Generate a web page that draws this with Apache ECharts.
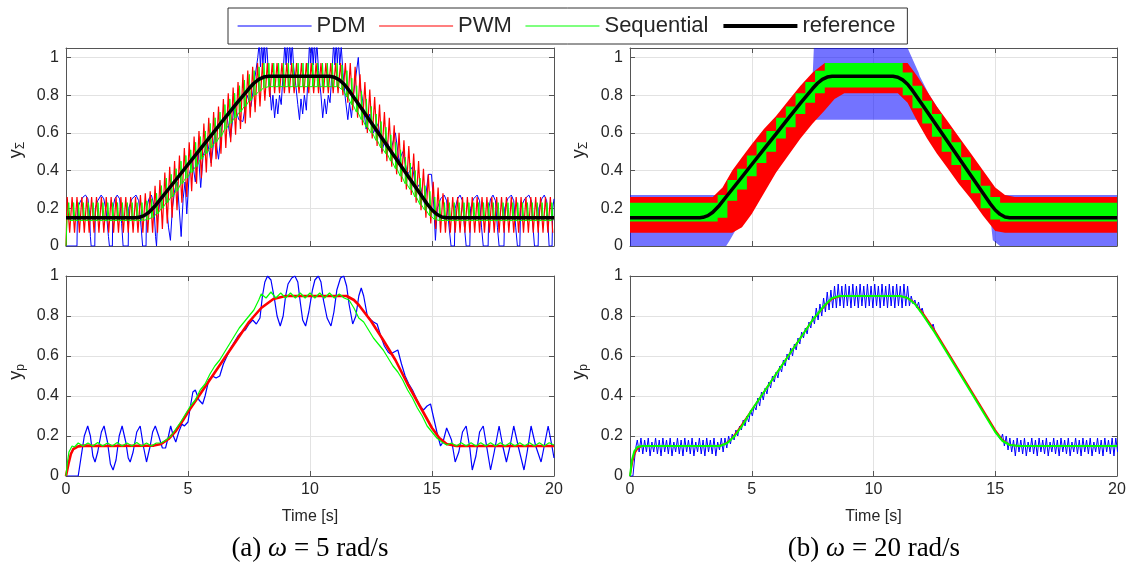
<!DOCTYPE html>
<html><head><meta charset="utf-8">
<script src="https://cdn.jsdelivr.net/npm/echarts@6/dist/echarts.min.js"></script>
<style>html,body{margin:0;padding:0;background:#fff}#c{width:1134px;height:574px}</style>
</head><body><div id="c"></div>
<script>
// ---------- DATA ----------
const seriesNames = ['PDM', 'PWM', 'Sequential', 'reference'];
const xTicks = [0, 5, 10, 15, 20];
const yTicks = [0, 0.2, 0.4, 0.6, 0.8, 1];
const captions = ['(a) {w|\u03c9} = 5 rad/s', '(b) {w|\u03c9} = 20 rad/s'];

// reference trajectory (same in both top panels)
const refT = [0,2.87,3.0,3.2,3.4,3.67,4.0,4.5,5,5.5,6,6.5,7,7.5,7.7,7.9,8.1,8.3,10.8,11.0,11.2,11.4,11.6,12,12.5,13,13.5,14,14.5,14.79,15.0,15.2,15.4,15.59,20];
const refY = [0.15,0.15,0.152,0.161,0.179,0.215,0.269,0.35,0.432,0.514,0.595,0.677,0.758,0.835,0.863,0.884,0.896,0.9,0.9,0.895,0.881,0.858,0.825,0.75,0.656,0.562,0.468,0.374,0.28,0.225,0.191,0.168,0.154,0.15,0.15];

// (a) omega = 5 : PWM switching, per cycle high / low values (cycle 0.2 s)
const pwmHiA = [.26,.26,.26,.26,.26,.26,.26,.26,.26,.26,.26,.26,.26,.26,.26,
 .27,.28,.29,.32,.35,.39,.42,.45,.48,.52,.55,.58,.61,.65,.68,.71,.74,.78,.81,.84,.87,.91,.93,.95,.97,
 .97,.97,.97,.97,.97,.97,.97,.97,.97,.97,.97,.97,.97,.97,.97,.97,.97,.97,.97,
 .95,.91,.87,.83,.79,.75,.71,.68,.64,.60,.56,.53,.49,.45,.41,.38,.34,.31,.28,
 .26,.26,.26,.26,.26,.26,.26,.26,.26,.26,.26,.26,.26,.26,.26,.26,.26,.26,.26,.26,.26,.26];
const pwmLoA = [.07,.07,.07,.07,.07,.07,.07,.07,.07,.07,.07,.07,.07,.07,.07,.07,.07,.07,.07,
 .09,.12,.15,.19,.23,.26,.29,.33,.36,.39,.42,.46,.49,.52,.55,.59,.62,.65,.68,.71,.74,.77,.79,
 .81,.81,.81,.81,.81,.81,.81,.81,.81,.81,.81,.81,.81,.81,
 .80,.76,.72,.68,.64,.60,.57,.53,.49,.45,.42,.38,.34,.30,.27,.23,.19,.15,.12,.09,
 .07,.07,.07,.07,.07,.07,.07,.07,.07,.07,.07,.07,.07,.07,.07,.07,.07,.07,.07,.07,.07,.07,.07,.07];
// (a) Sequential: per cycle pulse top / base
const seqHiA = [.23,.23,.23,.23,.23,.23,.23,.23,.23,.23,.23,.23,.23,.23,.23,.23,
 .24,.25,.28,.32,.36,.38,.41,.45,.48,.51,.55,.58,.61,.65,.68,.71,.75,.78,.81,.85,.88,.91,.93,.95,
 .97,.97,.97,.97,.97,.97,.97,.97,.97,.97,.97,.97,.97,.97,.97,.97,
 .96,.93,.89,.85,.82,.78,.74,.70,.66,.63,.59,.55,.51,.47,.44,.40,.36,.32,.29,.26,.24,
 .23,.23,.23,.23,.23,.23,.23,.23,.23,.23,.23,.23,.23,.23,.23,.23,.23,.23,.23,.23,.23,.23,.23];
const seqLoA = [.135,.135,.135,.135,.135,.135,.135,.135,.135,.135,.135,.135,.135,.135,.135,.135,
 .14,.15,.17,.20,.23,.26,.29,.33,.36,.39,.42,.46,.49,.52,.55,.58,.62,.65,.68,.71,.74,.77,.80,.82,.84,
 .845,.845,.845,.845,.845,.845,.845,.845,.845,.845,.845,.845,.845,.845,.845,
 .83,.79,.75,.71,.67,.63,.60,.56,.52,.49,.45,.41,.37,.33,.30,.26,.22,.19,.16,.14,
 .135,.135,.135,.135,.135,.135,.135,.135,.135,.135,.135,.135,.135,.135,.135,.135,.135,.135,.135,.135,.135,.135,.135,.135];
// (a) PDM total output [t, y]
const pdmA = [[0,0],[0.45,0],[0.47,0.2],[0.6,0.24],[0.7,0.26],[0.8,0.27],[0.9,0.25],[0.96,0.18],[1.0,0.05],[1.03,0],[1.18,0],[1.2,0.2],[1.3,0.24],[1.44,0.27],[1.55,0.25],[1.65,0.18],[1.74,0.05],[1.78,0],[1.9,0],[1.92,0.2],[2.0,0.25],[2.1,0.27],[2.2,0.25],[2.28,0.12],[2.34,0],[2.55,0],[2.57,0.2],[2.7,0.25],[2.87,0.27],[2.98,0.24],[3.08,0.1],[3.14,0],[3.28,0],[3.3,0.2],[3.4,0.25],[3.5,0.27],[3.6,0.22],[3.67,0.05],[3.71,0],[3.76,0.15],[3.88,0.26],[4.0,0.28],[4.1,0.25],[4.2,0.1],[4.28,0.03],[4.36,0.2],[4.46,0.3],[4.56,0.34],[4.64,0.2],[4.72,0.05],[4.8,0.25],[4.88,0.34],[4.95,0.17],[5.05,0.38],[5.18,0.45],[5.3,0.34],[5.42,0.5],[5.52,0.31],[5.62,0.48],[5.8,0.55],[5.95,0.44],[6.1,0.6],[6.25,0.46],[6.4,0.65],[6.58,0.7],[6.74,0.57],[6.9,0.75],[7.08,0.67],[7.25,0.66],[7.42,0.8],[7.58,0.74],[7.75,0.9],[7.86,1.0],[7.92,1.08],[7.97,0.95],[8.02,1.08],[8.07,0.96],[8.12,1.08],[8.17,0.97],[8.22,1.08],[8.28,0.95],[8.35,0.85],[8.42,0.72],[8.48,0.8],[8.55,0.68],[8.62,0.78],[8.68,0.7],[8.75,0.8],[8.82,0.75],[8.9,0.92],[8.97,1.08],[9.02,0.96],[9.07,1.08],[9.12,0.97],[9.17,1.08],[9.22,0.96],[9.27,1.08],[9.33,0.95],[9.42,0.85],[9.5,0.75],[9.57,0.67],[9.63,0.78],[9.7,0.7],[9.77,0.8],[9.85,0.72],[9.92,0.9],[9.98,1.08],[10.03,0.97],[10.08,1.08],[10.13,0.96],[10.18,1.08],[10.23,0.97],[10.28,1.08],[10.35,0.93],[10.45,0.8],[10.52,0.68],[10.6,0.78],[10.67,0.7],[10.75,0.8],[10.82,0.76],[10.9,0.92],[10.97,1.08],[11.02,0.96],[11.07,1.08],[11.12,0.97],[11.17,1.08],[11.22,0.96],[11.28,1.06],[11.35,0.92],[11.45,0.78],[11.55,0.67],[11.62,0.76],[11.7,0.68],[11.78,0.8],[11.88,0.9],[11.98,1.0],[12.05,0.85],[12.15,0.78],[12.3,0.62],[12.45,0.7],[12.6,0.6],[12.8,0.65],[12.95,0.5],[13.1,0.58],[13.3,0.5],[13.5,0.6],[13.65,0.45],[13.8,0.5],[14.0,0.38],[14.2,0.42],[14.35,0.3],[14.5,0.33],[14.7,0.22],[14.85,0.38],[14.98,0.38],[15.08,0.2],[15.14,0.03],[15.22,0.2],[15.35,0.25],[15.5,0.27],[15.6,0.24],[15.7,0.1],[15.78,0],[15.92,0],[15.95,0.2],[16.05,0.25],[16.15,0.27],[16.25,0.24],[16.33,0.1],[16.4,0],[16.55,0],[16.58,0.2],[16.7,0.25],[16.85,0.27],[16.95,0.24],[17.03,0.1],[17.1,0],[17.3,0],[17.33,0.2],[17.4,0.25],[17.5,0.27],[17.6,0.24],[17.68,0.1],[17.75,0],[17.95,0],[17.98,0.2],[18.1,0.25],[18.25,0.27],[18.35,0.24],[18.43,0.1],[18.5,0],[18.6,0],[18.63,0.2],[18.8,0.25],[18.97,0.27],[19.07,0.24],[19.14,0.1],[19.2,0],[19.35,0],[19.38,0.2],[19.5,0.25],[19.6,0.27],[19.7,0.24],[19.76,0.1],[19.8,0],[19.92,0],[19.95,0.2],[20,0.25]];

// (b) omega = 20 : switching too fast to resolve -> envelopes (low, high)
const pdmBandT  = [0,0.1,3.95,4.1,4.5,5.0,5.5,6.0,6.5,7.0,7.3,7.35,7.5,7.55,11.4,11.85,11.9,12.3,12.8,13.3,13.8,14.3,14.8,14.9,15.2,20];
const pdmBandHi = [.27,.27,.27,.32,.44,.5,.58,.65,.73,.81,.86,.88,.9,1.08,1.08,.92,.9,.8,.7,.6,.52,.42,.32,.3,.27,.27];
const pdmBandLo = [0,0,0,.03,.12,.2,.33,.43,.52,.6,.64,.67,.67,.67,.67,.67,.68,.6,.52,.44,.36,.27,.15,.03,0,0];
const pwmBandT  = [0,3.4,3.8,4.2,4.6,5.0,5.5,6.0,6.5,7.0,7.5,8.0,8.4,8.8,11.0,11.4,11.8,12.2,12.6,13.0,13.5,14.0,14.5,15.0,15.4,15.8,16.2,20];
const pwmBandHi = [.26,.26,.31,.4,.47,.54,.62,.69,.77,.85,.92,.97,.97,.97,.97,.97,.9,.82,.74,.67,.58,.49,.4,.31,.27,.26,.26,.26];
const pwmBandLo = [.07,.07,.07,.07,.1,.17,.28,.39,.48,.57,.65,.72,.78,.81,.81,.76,.66,.57,.49,.42,.33,.25,.16,.08,.07,.07,.07,.07];
const seqBandT  = [0,3.6,4.0,4.4,4.8,5.2,5.6,6.0,6.4,6.8,7.2,7.6,8.0,11.2,11.6,12.0,12.4,12.8,13.2,13.6,14.0,14.4,14.8,15.2,15.6,20];
const seqBandHi = [.23,.27,.35,.41,.48,.55,.61,.68,.74,.81,.87,.93,.97,.92,.85,.77,.7,.62,.55,.47,.4,.32,.26,.23,.23,.23];
const seqBandLo = [.13,.15,.24,.3,.37,.44,.5,.57,.63,.7,.76,.81,.84,.8,.73,.65,.58,.5,.43,.35,.28,.2,.14,.13,.13,.13];

// (a) plant outputs y_p [t, y]
const pdmPA = [[0,0],[0.5,0],[0.6,0.08],[0.75,0.2],[0.89,0.25],[1.0,0.2],[1.1,0.1],[1.19,0.07],[1.3,0.12],[1.45,0.22],[1.56,0.25],[1.7,0.17],[1.82,0.06],[1.93,0.03],[2.05,0.08],[2.18,0.2],[2.3,0.25],[2.45,0.17],[2.55,0.09],[2.63,0.07],[2.75,0.12],[2.9,0.22],[3.04,0.25],[3.17,0.15],[3.3,0.07],[3.45,0.15],[3.55,0.22],[3.66,0.25],[3.8,0.2],[3.95,0.14],[4.08,0.14],[4.2,0.2],[4.29,0.25],[4.4,0.2],[4.5,0.17],[4.62,0.22],[4.75,0.26],[4.85,0.25],[5.0,0.27],[5.1,0.35],[5.2,0.42],[5.3,0.43],[5.45,0.38],[5.6,0.36],[5.7,0.4],[5.85,0.48],[6.0,0.5],[6.15,0.49],[6.3,0.5],[6.45,0.56],[6.6,0.6],[6.75,0.64],[6.9,0.67],[7.05,0.7],[7.2,0.72],[7.35,0.73],[7.5,0.76],[7.65,0.78],[7.8,0.76],[7.95,0.79],[8.05,0.9],[8.15,0.97],[8.26,1.0],[8.4,0.98],[8.55,0.88],[8.65,0.8],[8.78,0.75],[8.9,0.8],[9.0,0.9],[9.1,0.96],[9.25,0.99],[9.38,1.0],[9.5,0.97],[9.6,0.87],[9.7,0.78],[9.82,0.75],[9.95,0.82],[10.1,0.93],[10.2,0.98],[10.34,1.0],[10.45,0.97],[10.55,0.88],[10.7,0.79],[10.86,0.75],[10.98,0.82],[11.1,0.93],[11.25,0.99],[11.38,1.0],[11.5,0.95],[11.6,0.86],[11.75,0.76],[11.88,0.8],[12.0,0.9],[12.1,0.94],[12.2,0.9],[12.35,0.8],[12.5,0.78],[12.6,0.77],[12.75,0.76],[12.9,0.7],[13.05,0.65],[13.2,0.62],[13.3,0.61],[13.45,0.62],[13.6,0.63],[13.75,0.56],[13.9,0.5],[14.05,0.46],[14.2,0.43],[14.35,0.39],[14.5,0.35],[14.65,0.33],[14.8,0.35],[14.94,0.36],[15.05,0.3],[15.2,0.22],[15.35,0.15],[15.45,0.17],[15.6,0.24],[15.68,0.25],[15.8,0.18],[15.95,0.07],[16.1,0.12],[16.25,0.22],[16.4,0.25],[16.55,0.14],[16.65,0.03],[16.8,0.1],[16.95,0.22],[17.1,0.25],[17.25,0.14],[17.4,0.03],[17.55,0.12],[17.75,0.25],[17.9,0.15],[18.05,0.07],[18.2,0.15],[18.35,0.25],[18.55,0.14],[18.77,0.03],[18.9,0.12],[19.06,0.25],[19.25,0.15],[19.47,0.07],[19.6,0.15],[19.76,0.25],[19.9,0.16],[20,0.09]];
const pwmPA = [[0,0],[0.1,0.06],[0.2,0.11],[0.3,0.135],[0.5,0.148],[0.8,0.152],[1.5,0.15],[3.6,0.152],[3.9,0.16],[4.2,0.185],[4.5,0.225],[4.8,0.28],[5.0,0.32],[5.5,0.41],[6.0,0.5],[6.5,0.59],[7.0,0.68],[7.5,0.77],[8.0,0.84],[8.5,0.885],[9.0,0.9],[11.5,0.9],[11.8,0.88],[12.0,0.855],[12.5,0.775],[13.0,0.68],[13.5,0.58],[14.0,0.46],[14.5,0.35],[15.0,0.24],[15.3,0.19],[15.6,0.16],[16.0,0.15],[20,0.15]];
const seqPA = [[0,0],[0.05,0.06],[0.12,0.12],[0.25,0.15],[0.35,0.145],[0.5,0.165],[0.7,0.15],[0.9,0.165],[1.1,0.15],[1.3,0.168],[1.5,0.15],[1.7,0.165],[1.9,0.15],[2.1,0.167],[2.3,0.15],[2.5,0.165],[2.7,0.15],[2.9,0.167],[3.1,0.15],[3.3,0.165],[3.5,0.15],[3.7,0.165],[3.9,0.165],[4.1,0.18],[4.3,0.2],[4.5,0.235],[4.7,0.27],[4.9,0.31],[5.1,0.35],[5.3,0.38],[5.5,0.43],[5.7,0.46],[5.9,0.51],[6.1,0.55],[6.3,0.58],[6.5,0.62],[6.7,0.66],[6.9,0.7],[7.1,0.74],[7.3,0.77],[7.5,0.8],[7.7,0.83],[7.9,0.88],[8.0,0.91],[8.2,0.89],[8.4,0.92],[8.6,0.89],[8.8,0.915],[9.0,0.89],[9.2,0.915],[9.4,0.89],[9.6,0.915],[9.8,0.89],[10.0,0.915],[10.2,0.89],[10.4,0.915],[10.6,0.89],[10.8,0.915],[11.0,0.89],[11.2,0.91],[11.4,0.89],[11.6,0.88],[11.8,0.84],[12.0,0.79],[12.2,0.77],[12.4,0.73],[12.6,0.69],[12.8,0.66],[13.0,0.63],[13.2,0.59],[13.4,0.55],[13.6,0.52],[13.8,0.48],[14.0,0.43],[14.2,0.39],[14.4,0.34],[14.6,0.3],[14.8,0.25],[15.0,0.22],[15.2,0.19],[15.4,0.17],[15.6,0.155],[15.8,0.165],[16.0,0.15],[16.2,0.166],[16.4,0.15],[16.6,0.166],[16.8,0.15],[17.0,0.166],[17.2,0.15],[17.4,0.166],[17.6,0.15],[17.8,0.166],[18.0,0.15],[18.2,0.166],[18.4,0.15],[18.6,0.166],[18.8,0.15],[19.0,0.166],[19.2,0.15],[19.4,0.166],[19.6,0.15],[19.8,0.166],[20,0.155]];

// (b) plant outputs y_p
const pdmHiB = [.18,
 .19,.18,.19,.17,.19,.18,.19,.18,.19,.17,.19,.18,.19,.18,.19,.17,.19,.18,.19,.18,.19,.17,.19,
 .19,.2,.21,.23,.25,.28,.3,.33,.35,.39,.42,.44,.47,.5,.52,.55,.58,.61,.64,.66,.69,.72,.74,.77,.8,.84,.86,.89,.92,.93,
 .95,.96,.95,.96,.95,.96,.95,.96,.95,.96,.95,.96,.95,.96,.95,.96,.95,.96,.95,.96,
 .95,.9,.88,.87,.84,.81,.78,.76,.73,.7,.67,.64,.61,.58,.55,.52,.49,.46,.43,.4,.37,.34,.31,.28,.25,.22,.21,.2,.19,
 .18,.19,.18,.19,.17,.19,.18,.19,.18,.19,.17,.19,.18,.19,.18,.19,.17,.19,.18,.19,.18,.19,.17,.19,.18,.19,.18,.19,.19];
const pdmLoB = [.12,
 .11,.12,.10,.12,.11,.10,.12,.11,.10,.12,.11,.10,.12,.11,.10,.12,.11,.10,.12,.11,.10,.13,.12,
 .14,.16,.18,.2,.23,.25,.27,.3,.33,.35,.38,.41,.44,.47,.49,.52,.55,.58,.6,.63,.66,.69,.71,.74,.76,.78,.8,.82,.83,.84,
 .84,.85,.84,.85,.84,.85,.84,.85,.84,.85,.84,.85,.84,.85,.84,.85,.84,.85,.84,.85,
 .85,.86,.84,.82,.8,.77,.74,.72,.69,.66,.63,.6,.57,.54,.51,.48,.45,.42,.39,.36,.33,.3,.27,.24,.21,.18,.15,.13,.12,
 .1,.12,.11,.1,.12,.11,.1,.12,.11,.1,.12,.11,.1,.12,.11,.1,.12,.11,.1,.12,.11,.1,.12,.11,.1,.12,.11,.1,.12];
const pdmStartB = [[0,0],[0.12,0],[0.2,0.1],[0.25,0.15]];
const pwmPB = [[0,0],[0.1,0.07],[0.2,0.115],[0.3,0.135],[0.45,0.148],[0.6,0.15],[3.6,0.15],[3.9,0.16],[4.2,0.19],[4.5,0.24],[5.0,0.33],[5.5,0.42],[6.0,0.51],[6.5,0.6],[7.0,0.69],[7.5,0.78],[8.0,0.85],[8.3,0.885],[8.6,0.898],[9.0,0.9],[11.0,0.9],[11.3,0.895],[11.6,0.875],[12.0,0.82],[12.5,0.73],[13.0,0.63],[13.5,0.53],[14.0,0.43],[14.5,0.33],[15.0,0.23],[15.3,0.18],[15.6,0.155],[16.0,0.15],[20,0.15]];
const seqPB = [[0,0],[0.08,0.08],[0.18,0.125],[0.3,0.145],[0.5,0.15],[3.7,0.15],[4.0,0.165],[4.3,0.2],[4.6,0.25],[5.0,0.33],[5.5,0.42],[6.0,0.51],[6.5,0.6],[7.0,0.69],[7.5,0.78],[8.0,0.855],[8.3,0.89],[8.6,0.9],[11.1,0.9],[11.4,0.89],[11.7,0.86],[12.0,0.81],[12.5,0.72],[13.0,0.62],[13.5,0.52],[14.0,0.42],[14.5,0.32],[15.0,0.22],[15.3,0.175],[15.6,0.155],[16.0,0.15],[20,0.15]];

// ---------- BUILDERS ----------
const COL = {PDM:'#0000ff', PWM:'#ff0000', Sequential:'#00ff00', reference:'#000000'};
const BOX = '#555555', GRIDC = '#e2e2e2', TXT = '#262626';
const FONT = '"Liberation Sans", Arial, Helvetica, sans-serif';
const SERIF = '"Liberation Serif", "Times New Roman", serif';

function pairs(t, y) { return t.map((v, i) => [v, y[i]]); }
// zig-zag switching: high at t0 + k*period, low half a period later
function zig(start, t0, period, hi, lo) {
  const out = start.slice();
  const n = Math.min(hi.length, lo.length);
  for (let k = 0; k < n; k++) {
    out.push([+(t0 + k * period).toFixed(4), hi[k]]);
    out.push([+(t0 + k * period + period / 2).toFixed(4), lo[k]]);
  }
  return out;
}
// narrow pulses from a base level
function pulses(start, t0, period, hi, lo) {
  const out = start.slice();
  const n = Math.min(hi.length, lo.length);
  for (let k = 0; k < n; k++) {
    const t = t0 + k * period;
    out.push([+t.toFixed(4), lo[k]]);
    out.push([+(t + 0.012).toFixed(4), hi[k]]);
    out.push([+(t + 0.05).toFixed(4), hi[k]]);
    out.push([+(t + 0.062).toFixed(4), lo[k]]);
  }
  return out;
}
function line(name, gi, data, width, extra) {
  return Object.assign({
    type: 'line', name: name, xAxisIndex: 2 * gi, yAxisIndex: 2 * gi, data: data,
    symbol: 'none', showSymbol: false, animation: false, silent: true, clip: true,
    lineStyle: {color: COL[name], width: width}, itemStyle: {color: COL[name]},
    emphasis: {disabled: true}
  }, extra || {});
}
// filled envelope between lo and hi, drawn with the axes' own coordinate mapping
function band(name, gi, t, hi, lo, opacity, stepped) {
  return {
    type: 'custom', name: name, xAxisIndex: 2 * gi, yAxisIndex: 2 * gi, silent: true, animation: false,
    data: t.map((v, i) => [v, lo[i], hi[i]]), encode: {x: 0, y: [1, 2]},
    itemStyle: {color: COL[name]},
    renderItem: function (params, api) {
      if (params.dataIndex !== 0) return null;
      const cs = params.coordSys;
      const clampPt = p => [p[0], Math.max(cs.y, Math.min(cs.y + cs.height, p[1]))];
      const top = [], bot = [];
      for (let i = 0; i < t.length; i++) {
        top.push(clampPt(api.coord([t[i], hi[i]])));
        bot.push(clampPt(api.coord([t[i], lo[i]])));
        if (stepped && i < t.length - 1) {
          top.push(clampPt(api.coord([t[i + 1], hi[i]])));
          bot.push(clampPt(api.coord([t[i + 1], lo[i]])));
        }
      }
      const pts = top.concat(bot.reverse());
      return {type: 'polygon', shape: {points: pts}, style: {fill: COL[name], opacity: opacity}};
    }
  };
}

const grids = [
  {left: 66, top: 48, width: 488, height: 198},
  {left: 630, top: 48, width: 487, height: 198},
  {left: 66, top: 276, width: 488, height: 200},
  {left: 630, top: 276, width: 487, height: 200}
];
const ymax = [1.05, 1.05, 1, 1];
const showX = [false, false, true, true];
const xAxes = [], yAxes = [];
grids.forEach((g, gi) => {
  const axLine = {show: true, onZero: false, lineStyle: {color: BOX, width: 1}};
  const tick = {show: true, inside: true, length: 5, lineStyle: {color: BOX, width: 1}};
  xAxes.push({gridIndex: gi, type: 'value', min: xTicks[0], max: xTicks[xTicks.length - 1], interval: 5,
    position: 'bottom', axisLine: axLine, axisTick: tick,
    axisLabel: {show: showX[gi], color: TXT, fontSize: 16, fontFamily: FONT, margin: 6},
    splitLine: {show: true, lineStyle: {color: GRIDC, width: 1}},
    name: showX[gi] ? 'Time [s]' : '', nameLocation: 'middle', nameGap: 33,
    nameTextStyle: {color: TXT, fontSize: 16, fontFamily: FONT}});
  xAxes.push({gridIndex: gi, type: 'value', min: 0, max: 20, interval: 5, position: 'top',
    axisLine: axLine, axisTick: tick, axisLabel: {show: false}, splitLine: {show: false}});
  yAxes.push({gridIndex: gi, type: 'value', min: yTicks[0], max: ymax[gi], interval: 0.2,
    position: 'left', axisLine: axLine, axisTick: tick,
    axisLabel: {color: TXT, fontSize: 16, fontFamily: FONT, margin: 7, showMaxLabel: ymax[gi] <= 1},
    splitLine: {show: true, lineStyle: {color: GRIDC, width: 1}}});
  yAxes.push({gridIndex: gi, type: 'value', min: 0, max: ymax[gi], interval: 0.2, position: 'right',
    axisLine: axLine, axisTick: tick, axisLabel: {show: false}, splitLine: {show: false}});
});

const refData = pairs(refT, refY);
const series = [
  // (a) top
  line('PDM', 0, pdmA, 1),
  line('PWM', 0, zig([[0, 0]], 0.05, 0.2, pwmHiA, pwmLoA), 1.2),
  line('Sequential', 0, pulses([[0, 0], [0.04, 0.135]], 0.1, 0.2, seqHiA, seqLoA), 1),
  line('reference', 0, refData, 3.5),
  // (b) top
  band('PDM', 1, pdmBandT, pdmBandHi, pdmBandLo, 0.55, false),
  band('PWM', 1, pwmBandT, pwmBandHi, pwmBandLo, 1, false),
  band('Sequential', 1, seqBandT, seqBandHi, seqBandLo, 1, true),
  line('reference', 1, refData, 3.5),
  // (a) bottom
  line('PDM', 2, pdmPA, 1.2),
  line('PWM', 2, pwmPA, 2.6),
  line('Sequential', 2, seqPA, 1.2),
  // (b) bottom
  line('PDM', 3, zig(pdmStartB, 0.3, 0.15, pdmHiB, pdmLoB), 1),
  line('PWM', 3, pwmPB, 1.6),
  line('Sequential', 3, seqPB, 2)
];

function yName(x, y, sub) {
  return {type: 'text', x: x, y: y, rotation: Math.PI / 2, silent: true,
    style: {text: '{a|y}{b|' + sub + '}', align: 'center', verticalAlign: 'middle', fill: TXT,
      rich: {a: {fontSize: 18, fontFamily: FONT, fill: TXT, lineHeight: 20, verticalAlign: 'top'},
             b: {fontSize: 12, fontFamily: FONT, fill: TXT, lineHeight: 20, padding: [7, 0, 0, 0], verticalAlign: 'bottom'}}}};
}
function caption(x, text) {
  return {type: 'text', x: x, y: 549, silent: true,
    style: {text: text, align: 'center', verticalAlign: 'middle', fill: '#000', fontSize: 27, fontFamily: SERIF,
      rich: {w: {fontSize: 27, fontFamily: SERIF, fontStyle: 'italic', fill: '#000'}}}};
}

const chart = echarts.init(document.getElementById('c'), null, {renderer: 'canvas'});
chart.setOption({
  animation: false,
  backgroundColor: '#ffffff',
  textStyle: {fontFamily: FONT},
  grid: grids.map(g => Object.assign({containLabel: false, outerBoundsMode: 'none'}, g)),
  xAxis: xAxes,
  yAxis: yAxes,
  legend: {
    data: seriesNames.map(n => ({name: n, lineStyle: {width: n === 'reference' ? 4 : 1.2}})),
    left: 228, top: 8, orient: 'horizontal',
    itemWidth: 74, itemHeight: 14, itemGap: 13,
    itemStyle: {opacity: 0},
    padding: [7, 12, 7, 9], borderColor: '#333', borderWidth: 1, backgroundColor: '#fff',
    textStyle: {fontSize: 22, color: TXT, fontFamily: FONT},
    selectedMode: false
  },
  series: series,
  graphic: [
    yName(17, 150, '\u03a3'), yName(17, 372, 'p'),
    yName(580, 150, '\u03a3'), yName(580, 372, 'p'),
    caption(310, captions[0]), caption(874, captions[1])
  ]
});
</script>
</body></html>
